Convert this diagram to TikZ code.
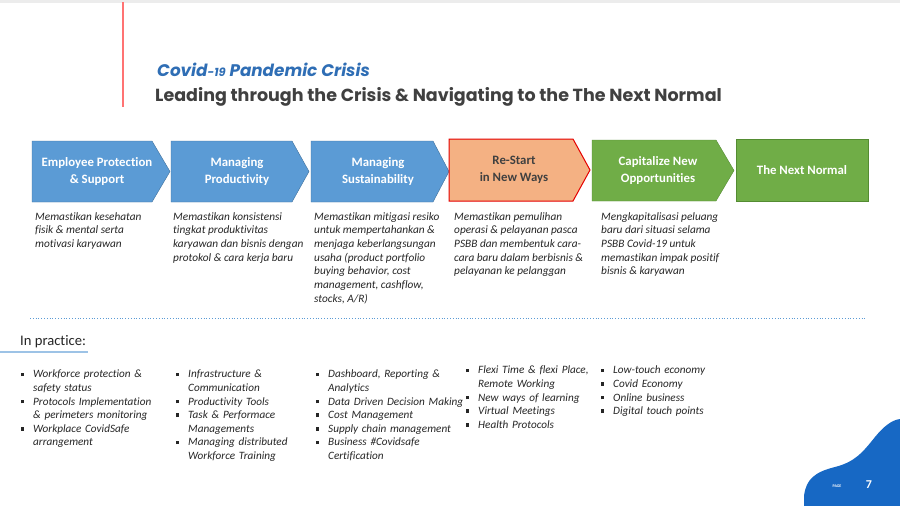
\documentclass[tikz,border=0pt]{standalone}
\usepackage{fontspec}
\setmainfont{Carlito}[Ligatures={NoCommon,NoContextual}]
\newfontfamily\headfont{Poppins}
\usetikzlibrary{positioning}

\definecolor{stageblue}{RGB}{91,155,213}
\definecolor{stageblueline}{RGB}{65,113,156}
\definecolor{stageorange}{RGB}{244,177,131}
\definecolor{stagegreen}{RGB}{112,173,71}
\definecolor{stagegreenline}{RGB}{84,140,50}
\definecolor{titleblue}{RGB}{47,110,181}
\definecolor{darktext}{RGB}{64,64,64}
\definecolor{pageblue}{RGB}{23,104,196}

\newenvironment{practlist}{\begin{list}{\rule[1.6pt]{3.6pt}{3.6pt}}{%
  \setlength\leftmargin{13pt}\setlength\labelwidth{4pt}\setlength\labelsep{9pt}%
  \setlength\itemsep{0pt}\setlength\parsep{0pt}\setlength\topsep{0pt}%
  \setlength\partopsep{0pt}\setlength\itemindent{0pt}}\raggedright}{\end{list}}

\tikzset{
  stagelabel/.style={font=\fontsize{12.8}{16.5}\selectfont\bfseries,text=white,align=center},
  desctext/.style={font=\fontsize{11.3}{13.7}\selectfont\itshape,text=black!85,align=left,anchor=north west,inner sep=0pt},
  practtext/.style={font=\fontsize{11.2}{13.6}\selectfont\itshape,text=black!85,text width=165pt,anchor=north west,inner sep=0pt},
}

\begin{document}
\begin{tikzpicture}[x=1pt,y=-1pt]
\useasboundingbox (0,0) rectangle (900,506);
\fill[white] (0,0) rectangle (900,506);
\fill[gray!15] (0,0) rectangle (900,2.5);
\draw[red!55!white,line width=1.5pt] (123,2) -- (123,107);

% titles
\node[font=\headfont\fontsize{16.8}{19}\selectfont\bfseries\itshape,text=titleblue,anchor=base west,inner sep=0pt] (title) at (157,76) {Covid{\fontsize{11.5}{12}\selectfont-19} Pandemic Crisis};
\node[font=\headfont\fontsize{17.5}{20}\selectfont\bfseries,text=darktext,anchor=base west,inner sep=0pt] (subtitle) at (155,101) {Leading through the Crisis \& Navigating to the The Next Normal};

% stages
\draw[fill=stageblue,draw=stageblueline] (32,141) -- (152,141) -- (170,171.5) -- (152,202) -- (32,202) -- cycle;
\draw[fill=stageblue,draw=stageblueline] (171,141) -- (292,141) -- (309,171.5) -- (292,202) -- (171,202) -- cycle;
\draw[fill=stageblue,draw=stageblueline] (311,141) -- (433,141) -- (449,171.5) -- (433,202) -- (311,202) -- cycle;
\draw[fill=stageorange,draw=red!90!black,line width=1pt] (449,139) -- (573,139) -- (590,170) -- (573,201) -- (449,201) -- cycle;
\draw[fill=stagegreen,draw=stagegreenline] (592,140) -- (716,140) -- (734,170.5) -- (716,201) -- (592,201) -- cycle;
\draw[fill=stagegreen,draw=stagegreenline] (736,139) rectangle (868,201);

\node[stagelabel] (protect) at (97,171.5) {Employee Protection\\\& Support};
\node[stagelabel] (product) at (237,171.5) {Managing\\Productivity};
\node[stagelabel] (sustain) at (378,171.5) {Managing\\Sustainability};
\node[stagelabel,text=darktext] (restart) at (514,170) {Re-Start\\in New Ways};
\node[stagelabel] (capital) at (658,170.5) {Capitalize New\\Opportunities};
\node[stagelabel] (nextnorm) at (802,170) {The Next Normal};

% descriptions
\node[desctext] (d1) at (35,212) {Memastikan kesehatan\\fisik \& mental serta\\motivasi karyawan};
\node[desctext] (d2) at (173,212) {Memastikan konsistensi\\tingkat produktivitas\\karyawan dan bisnis dengan\\protokol \& cara kerja baru};
\node[desctext] (d3) at (314,212) {Memastikan mitigasi resiko\\untuk mempertahankan \&\\menjaga keberlangsungan\\usaha (product portfolio\\buying behavior, cost\\management, cashflow,\\stocks, A/R)};
\node[desctext] (d4) at (454,212) {Memastikan pemulihan\\operasi \& pelayanan pasca\\PSBB dan membentuk cara-\\cara baru dalam berbisnis \&\\pelayanan ke pelanggan};
\node[desctext] (d5) at (601,212) {Mengkapitalisasi peluang\\baru dari situasi selama\\PSBB Covid-19 untuk\\memastikan impak positif\\bisnis \& karyawan};

\draw[stageblue,dotted,line width=0.8pt] (30,318) -- (865,318);

% in practice
\node[font=\fontsize{14.6}{16}\selectfont,text=black!85,anchor=base west,inner sep=0pt] (practice) at (20,345) {In practice:};
\draw[stageblue!60,line width=1.2pt] (0,352) -- (88,352);

\node[practtext] (p1) at (20,364) {\begin{practlist}
\item Workforce protection \&\\safety status
\item Protocols Implementation\\\& perimeters monitoring
\item Workplace CovidSafe\\arrangement
\end{practlist}};
\node[practtext] (p2) at (175,364) {\begin{practlist}
\item Infrastructure \&\\Communication
\item Productivity Tools
\item Task \& Performace\\Managements
\item Managing distributed\\Workforce Training
\end{practlist}};
\node[practtext] (p3) at (315,364) {\begin{practlist}
\item Dashboard, Reporting \&\\Analytics
\item Data Driven Decision Making
\item Cost Management
\item Supply chain management
\item Business \#Covidsafe\\Certification
\end{practlist}};
\node[practtext] (p4) at (465,360) {\begin{practlist}
\item Flexi Time \& flexi Place,\\Remote Working
\item New ways of learning
\item Virtual Meetings
\item Health Protocols
\end{practlist}};
\node[practtext] (p5) at (600,360) {\begin{practlist}
\item Low-touch economy
\item Covid Economy
\item Online business
\item Digital touch points
\end{practlist}};

% page corner
\fill[pageblue] (804,506) -- (804,496) .. controls (806,479) and (815,472) .. (835,467)
  .. controls (855,462) and (863,452) .. (875,437) .. controls (884,426) and (892,420) .. (900,419) -- (900,506) -- cycle;
\node[font=\fontsize{4}{5}\selectfont\bfseries,text=white,inner sep=0pt] (pagelbl) at (837,486) {PAGE};
\node[font=\fontsize{12}{14}\selectfont\bfseries,text=white,inner sep=0pt] (pagenum) at (869,485) {7};
\end{tikzpicture}
\end{document}
